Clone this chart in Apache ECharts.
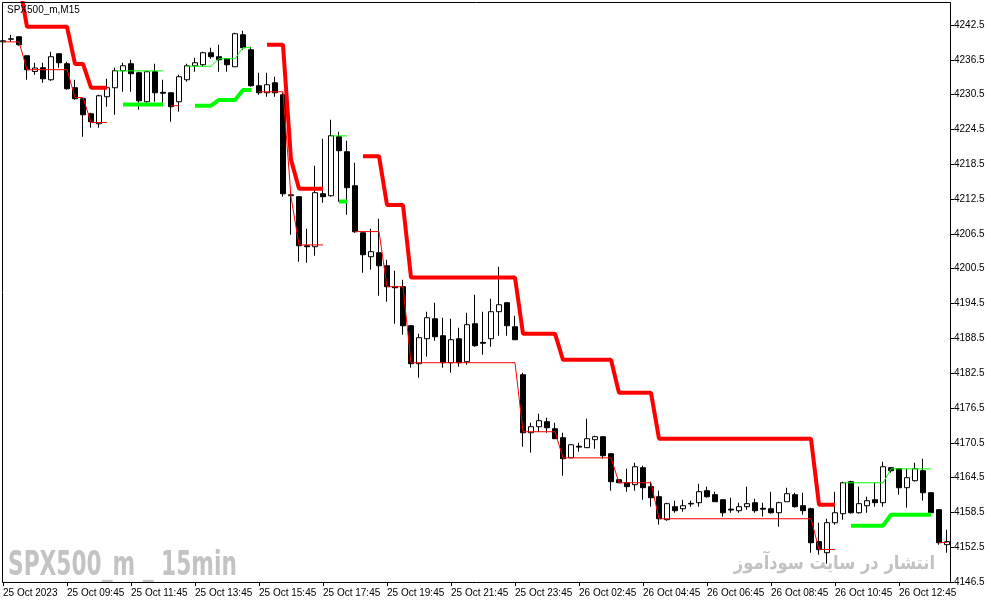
<!DOCTYPE html>
<html lang="en">
<head>
    <meta charset="utf-8" />
    <title>SPX500_m,M15</title>
    <script type="text/javascript" src="https://cdn.jsdelivr.net/npm/echarts@6/dist/echarts.min.js"></script>
    <style type="text/css">
        html, body { margin: 0; padding: 0; background: #ffffff; }
        #main { width: 991px; height: 605px; }
    </style>
</head>
<body>
    <div id="main"></div>

    <script type="text/javascript">

        // 15 min bars, 25 Oct 07:45 .. 26 Oct 14:15 (one hour break after 23:45)
        var opens = [4239.62, 4240.05, 4240.48, 4237.21, 4234.50, 4235.14, 4233.07, 4237.55, 4235.83, 4231.69,
            4229.80, 4227.21, 4225.49, 4230.14, 4231.69, 4234.62, 4235.83, 4234.28, 4229.28, 4234.45,
            4230.90, 4230.83, 4229.28, 4233.07, 4235.48, 4235.66, 4237.73, 4237.04, 4236.69, 4235.31,
            4240.83, 4238.24, 4232.04, 4230.83, 4232.55, 4230.49, 4213.08, 4212.91, 4204.46, 4204.29,
            4213.42, 4213.08, 4223.25, 4220.66, 4214.80, 4206.70, 4202.57, 4203.26, 4201.01, 4197.40,
            4197.40, 4190.67, 4184.12, 4188.43, 4191.88, 4188.95, 4184.30, 4188.43, 4184.47, 4191.02,
            4187.80, 4188.43, 4193.09, 4194.64, 4190.50, 4182.23, 4172.23, 4173.27, 4174.13, 4172.92,
            4171.37, 4167.92, 4169.90, 4169.65, 4171.03, 4171.54, 4168.61, 4164.13, 4163.61, 4163.27,
            4166.20, 4162.93, 4161.20, 4157.24, 4159.48, 4159.13, 4160.05, 4160.17, 4162.24, 4161.55,
            4160.68, 4159.05, 4158.79, 4159.48, 4160.17, 4159.20, 4159.13, 4158.44, 4160.34, 4161.55,
            4159.65, 4159.13, 4153.45, 4151.55, 4156.72, 4158.27, 4163.79, 4158.44, 4159.65, 4160.68,
            4160.17, 4166.20, 4166.03, 4162.75, 4163.96, 4165.68, 4161.89, 4158.96, 4152.93];
        var closes = [4239.79, 4240.14, 4239.10, 4234.80, 4235.09, 4233.24, 4237.04, 4236.00, 4231.52, 4229.80,
            4227.04, 4225.83, 4230.31, 4231.69, 4234.62, 4235.48, 4234.11, 4229.45, 4234.45, 4230.83,
            4230.75, 4228.42, 4233.59, 4235.48, 4236.00, 4237.73, 4237.04, 4236.52, 4235.66, 4241.00,
            4238.59, 4232.04, 4230.83, 4232.21, 4230.83, 4213.42, 4213.25, 4204.46, 4204.29, 4213.60,
            4212.91, 4223.42, 4220.84, 4214.46, 4206.87, 4202.91, 4203.43, 4201.01, 4197.40, 4197.22,
            4190.67, 4184.12, 4188.61, 4192.05, 4188.78, 4184.30, 4188.26, 4184.30, 4190.85, 4187.23,
            4187.65, 4193.09, 4194.29, 4190.67, 4188.26, 4172.23, 4173.27, 4174.30, 4173.09, 4171.20,
            4167.75, 4170.16, 4169.75, 4171.20, 4171.54, 4168.27, 4163.79, 4163.61, 4162.93, 4166.37,
            4162.75, 4161.03, 4157.41, 4160.00, 4158.79, 4159.65, 4159.95, 4162.06, 4161.20, 4160.34,
            4158.44, 4158.90, 4159.48, 4160.00, 4158.79, 4159.05, 4158.44, 4160.17, 4161.72, 4159.48,
            4158.79, 4153.27, 4152.07, 4156.72, 4158.44, 4163.61, 4158.44, 4160.00, 4160.51, 4160.17,
            4166.37, 4165.68, 4162.75, 4164.48, 4166.03, 4161.89, 4158.44, 4153.27, 4153.45];
        var lows = [4239.45, 4239.62, 4238.93, 4233.07, 4233.93, 4232.55, 4232.90, 4235.14, 4231.35, 4229.62,
            4223.25, 4224.80, 4224.80, 4228.42, 4227.04, 4231.00, 4231.00, 4227.90, 4229.11, 4229.28,
            4229.11, 4225.83, 4227.56, 4232.73, 4234.45, 4235.31, 4236.69, 4234.45, 4234.45, 4235.25,
            4238.24, 4231.87, 4230.49, 4230.14, 4230.14, 4212.91, 4206.36, 4201.70, 4201.53, 4202.74,
            4211.87, 4212.91, 4212.05, 4209.80, 4206.70, 4199.81, 4200.33, 4195.84, 4194.81, 4191.02,
            4189.12, 4183.44, 4181.71, 4185.33, 4188.09, 4183.44, 4182.57, 4183.61, 4183.95, 4187.05,
            4185.68, 4187.05, 4188.95, 4188.95, 4188.20, 4169.82, 4168.79, 4172.40, 4172.23, 4171.15,
            4164.82, 4167.85, 4168.96, 4169.60, 4169.47, 4167.75, 4162.24, 4163.55, 4162.06, 4162.24,
            4160.68, 4159.48, 4156.38, 4157.07, 4158.44, 4158.61, 4159.48, 4159.48, 4161.03, 4160.30,
            4157.76, 4158.44, 4158.44, 4158.96, 4158.44, 4157.76, 4158.27, 4156.03, 4160.30, 4159.31,
            4158.10, 4151.55, 4151.21, 4149.65, 4156.38, 4157.24, 4158.27, 4158.27, 4158.44, 4159.48,
            4159.48, 4165.35, 4161.55, 4159.31, 4163.79, 4160.51, 4158.40, 4152.93, 4151.55];
        var highs = [4240.31, 4240.83, 4240.55, 4237.21, 4236.00, 4236.00, 4237.90, 4237.62, 4236.17, 4233.07,
            4229.97, 4227.38, 4230.49, 4233.24, 4235.14, 4236.00, 4236.52, 4234.45, 4234.62, 4235.83,
            4233.07, 4230.90, 4233.93, 4235.83, 4236.86, 4237.90, 4238.59, 4239.10, 4236.75, 4241.17,
            4241.52, 4238.76, 4234.28, 4234.28, 4233.59, 4230.83, 4213.60, 4213.00, 4207.39, 4218.25,
            4222.90, 4226.18, 4224.11, 4222.56, 4218.77, 4206.75, 4207.39, 4209.12, 4202.05, 4200.15,
            4198.60, 4190.75, 4189.30, 4193.09, 4194.64, 4192.05, 4191.88, 4190.33, 4192.91, 4196.02,
            4193.09, 4195.33, 4200.84, 4194.70, 4192.40, 4182.57, 4173.96, 4175.51, 4174.82, 4173.96,
            4172.23, 4170.20, 4170.51, 4174.65, 4171.72, 4171.60, 4168.70, 4164.20, 4166.03, 4167.06,
            4166.54, 4163.79, 4162.24, 4160.17, 4160.51, 4160.68, 4160.51, 4163.44, 4162.93, 4162.06,
            4160.75, 4161.03, 4160.17, 4162.93, 4160.86, 4160.17, 4162.06, 4160.34, 4162.75, 4161.89,
            4161.89, 4159.31, 4156.72, 4157.41, 4162.06, 4163.79, 4163.96, 4162.93, 4161.20, 4163.61,
            4167.23, 4166.25, 4166.10, 4166.03, 4167.06, 4167.75, 4161.95, 4159.00, 4155.50];

        // indicator lines as [firstBar, lastBar, level]
        var redBandSteps = [[0, 2, 4250], [3, 8, 4242.2], [9, 10, 4235.8], [11, 13, 4231.7],
            [33, 35, 4239.1], [36, 36, 4219.3], [37, 40, 4214.3], [45, 47, 4219.9], [48, 50, 4211.5],
            [51, 64, 4199.0], [65, 69, 4189.3], [70, 76, 4184.8], [77, 81, 4179.1], [82, 101, 4171.2],
            [102, 104, 4159.8]];
        var greenBandSteps = [[15, 20, 4228.8], [24, 26, 4228.6], [27, 29, 4229.6], [30, 31, 4231.3],
            [42, 43, 4212.1], [106, 110, 4156.2], [111, 116, 4158.1]];
        var redTrailSteps = [[0, 2, 4239.6], [3, 8, 4234.8], [9, 10, 4230.0], [11, 13, 4225.7],
            [21, 22, 4228.6], [32, 35, 4231.0], [36, 36, 4212.9], [37, 40, 4204.6], [44, 47, 4206.9],
            [48, 50, 4197.4], [51, 64, 4184.3], [65, 69, 4172.4], [70, 76, 4167.9], [77, 81, 4163.6],
            [82, 101, 4157.4], [102, 104, 4152.1], [117, 118, 4153.3]];
        var greenTrailSteps = [[14, 20, 4234.6], [23, 26, 4235.4], [27, 29, 4236.7], [30, 31, 4238.6],
            [41, 43, 4223.4], [105, 110, 4163.6], [111, 116, 4166.0]];

        var tickLabels = ['25 Oct 2023', '25 Oct 09:45', '25 Oct 11:45', '25 Oct 13:45', '25 Oct 15:45',
            '25 Oct 17:45', '25 Oct 19:45', '25 Oct 21:45', '25 Oct 23:45', '26 Oct 02:45', '26 Oct 04:45',
            '26 Oct 06:45', '26 Oct 08:45', '26 Oct 10:45', '26 Oct 12:45'];

        function pad(n) { return (n < 10 ? '0' : '') + n; }

        // bar times
        var times = [];
        for (var i = 0; i < opens.length; i++) {
            var day, mins;
            if (i <= 64) { day = 25; mins = 7 * 60 + 45 + i * 15; }
            else { day = 26; mins = 60 + (i - 65) * 15; }
            times.push(day + ' Oct ' + pad(Math.floor(mins / 60)) + ':' + pad(mins % 60));
        }

        var candles = [];
        for (var k = 0; k < opens.length; k++) {
            candles.push([opens[k], closes[k], lows[k], highs[k]]);
        }

        function expand(steps) {
            var arr = [];
            for (var j = 0; j < opens.length; j++) arr.push(null);
            steps.forEach(function (s) {
                for (var b = s[0]; b <= s[1]; b++) arr[b] = s[2];
            });
            return arr;
        }

        function lineSeries(name, steps, color, width) {
            return {
                name: name,
                type: 'line',
                data: expand(steps),
                symbol: 'none',
                showSymbol: false,
                connectNulls: false,
                silent: true,
                z: 3,
                lineStyle: { color: color, width: width },
                emphasis: { disabled: true }
            };
        }

        var myChart = echarts.init(document.getElementById('main'));

        var option = {
            animation: false,
            backgroundColor: '#ffffff',
            grid: { left: 3, right: 44, top: 3, bottom: 23 },
            xAxis: {
                type: 'category',
                data: times,
                boundaryGap: false,
                axisLine: { show: false },
                axisTick: {
                    show: true,
                    length: 4,
                    interval: function (idx) { return idx % 8 === 0; },
                    lineStyle: { color: '#000000' }
                },
                axisLabel: {
                    interval: function (idx) { return idx % 8 === 0; },
                    formatter: function (val, idx) { return tickLabels[idx / 8] || ''; },
                    align: 'left',
                    margin: 6,
                    color: '#000000',
                    fontFamily: 'Liberation Sans',
                    fontSize: 10
                },
                splitLine: { show: false }
            },
            yAxis: {
                type: 'value',
                position: 'right',
                offset: 3,
                min: 4146.5,
                max: 4246.3,
                interval: 6,
                axisLine: { show: true, lineStyle: { color: '#000000' } },
                axisTick: { show: true, length: 4, lineStyle: { color: '#000000' } },
                axisLabel: {
                    margin: 4,
                    color: '#000000',
                    fontFamily: 'Liberation Sans',
                    fontSize: 10,
                    showMaxLabel: false,
                    formatter: function (v) { return v.toFixed(1); }
                },
                splitLine: { show: false }
            },
            graphic: [
                {
                    type: 'rect', silent: true, z: 10,
                    shape: { x: 2.5, y: 2.5, width: 948, height: 580 },
                    style: { fill: null, stroke: '#000000', lineWidth: 1 }
                },
                {
                    type: 'text', silent: true, z: 10, x: 7, y: 5,
                    style: { text: 'SPX500_m,M15', font: '10px "Liberation Sans"', fill: '#000000' }
                },
                {
                    type: 'text', silent: true, z: 1, x: 8, y: 566, scaleX: 0.71,
                    style: {
                        text: 'SPX500_m _ 15min', font: 'bold 34px "Liberation Sans Narrow", "DejaVu Sans Condensed"',
                        fill: '#c3c3c3', verticalAlign: 'middle', textVerticalAlign: 'middle'
                    }
                },
                {
                    type: 'text', silent: true, z: 1, x: 935, y: 564, scaleX: 0.86,
                    style: {
                        text: 'انتشار در سایت سودآموز', font: 'bold 19px "DejaVu Sans"',
                        fill: '#c2c2c2', align: 'right', textAlign: 'right',
                        verticalAlign: 'middle', textVerticalAlign: 'middle'
                    }
                }
            ],
            series: [
                {
                    name: 'SPX500_m',
                    type: 'candlestick',
                    data: candles,
                    barWidth: 5,
                    clip: false,
                    silent: true,
                    z: 2,
                    itemStyle: {
                        color: '#ffffff',
                        color0: '#000000',
                        borderColor: '#000000',
                        borderColor0: '#000000',
                        borderWidth: 1
                    }
                },
                lineSeries('redTrail', redTrailSteps, '#ff0000', 1),
                lineSeries('greenTrail', greenTrailSteps, '#00ff00', 1),
                lineSeries('redBand', redBandSteps, '#ff0000', 4),
                lineSeries('greenBand', greenBandSteps, '#00ff00', 4)
            ]
        };
        myChart.setOption(option);
    </script>
</body>
</html>
